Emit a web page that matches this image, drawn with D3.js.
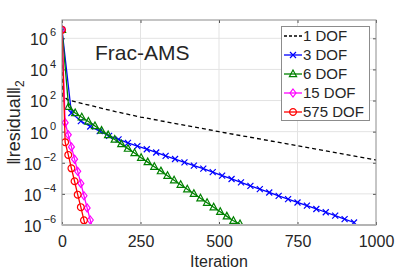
<!DOCTYPE html>
<html>
<head>
<meta charset="utf-8">
<script src="https://cdn.jsdelivr.net/npm/d3@7"></script>
<style>
  html, body { margin: 0; padding: 0; background: #fff; }
  svg { display: block; }
  text { font-family: "Liberation Sans", Arial, sans-serif; fill: #262626; }
</style>
</head>
<body>
<svg id="chart" width="415" height="274"></svg>
<script>
// --- Data ---

const seriesNames = ['1 DOF', '3 DOF', '6 DOF', '15 DOF', '575 DOF'];

// 1 DOF: dashed, no markers
const dof1Iter = [0, 1, 20, 100, 170, 250, 500, 750, 1000];
const dof1Res  = [3.5e6, 200, 107, 43, 19.5, 8.7, 1.0, 0.123, 0.015];

// 3 DOF: blue crosses
const dof3Iter = [0, 30, 60, 90, 120, 150, 180, 210, 240, 270, 300, 330, 360, 390, 420, 450,
  480, 510, 540, 570, 600, 630, 660, 690, 720, 750, 780, 810, 840, 870, 900, 930];
const dof3Res  = [3.5e6, 15.8, 4.8, 2.14, 1.07, 0.54, 0.32, 0.19, 0.117, 0.074, 0.046, 0.028,
  0.0174, 0.0107, 6.6e-3, 4.2e-3, 2.5e-3, 1.5e-3, 9.1e-4, 5.5e-4, 3.3e-4, 2.0e-4, 1.23e-4,
  7.4e-5, 4.6e-5, 2.8e-5, 1.74e-5, 1.07e-5, 6.6e-6, 4.0e-6, 2.4e-6, 1.45e-6];

// 6 DOF: green triangles
const dof6Iter = [0, 21, 42, 63, 84, 105, 126, 147, 168, 189, 210, 231, 252, 273, 294, 315,
  336, 357, 378, 399, 420, 441, 462, 483, 504, 525, 546, 567];
const dof6Res  = [3.5e6, 39.8, 15.8, 8.5, 4.47, 2.29, 1.17, 0.60, 0.31, 0.158, 0.081, 0.042,
  0.021, 0.011, 5.6e-3, 2.9e-3, 1.48e-3, 7.6e-4, 3.9e-4, 2.0e-4, 1.02e-4, 5.2e-5, 2.7e-5,
  1.38e-5, 7.1e-6, 3.6e-6, 1.86e-6, 1.15e-6];

// 15 DOF: magenta diamonds
const dof15Iter = [0, 10, 20, 30, 40, 50, 60, 70, 80, 90, 100];
const dof15Res  = [3.5e6, 3.8, 0.63, 0.105, 0.017, 2.8e-3, 4.7e-4, 7.6e-5, 1.26e-5, 2.1e-6, 3.5e-7];

// 575 DOF: red circles
const dof575Iter = [0, 10, 20, 30, 40, 50, 60, 70, 80];
const dof575Res  = [3.5e6, 0.21, 0.032, 4.4e-3, 6.5e-4, 8.9e-5, 1.4e-5, 2.0e-6, 3.2e-7];

const xTicks = [0, 250, 500, 750, 1000];
const yTicks = [1e-6, 1e-4, 1e-2, 1e0, 1e2, 1e4, 1e6];

// --- Layout ---

const svg = d3.select('#chart');
const padL = 62, padR = 376, padT = 20, padB = 225;

const x = d3.scaleLinear().domain([0, 1000]).range([padL, padR]);
const y = d3.scaleLog().domain([1e-6, 1.5e7]).range([padB, padT]);

const series = [
  { name: seriesNames[0], iter: dof1Iter, res: dof1Res, color: '#000000', dash: '4,3', marker: null },
  { name: seriesNames[1], iter: dof3Iter, res: dof3Res, color: '#0000ff', dash: null, marker: 'x' },
  { name: seriesNames[2], iter: dof6Iter, res: dof6Res, color: '#008000', dash: null, marker: 'tri' },
  { name: seriesNames[3], iter: dof15Iter, res: dof15Res, color: '#ff00ff', dash: null, marker: 'dia' },
  { name: seriesNames[4], iter: dof575Iter, res: dof575Res, color: '#ff0000', dash: null, marker: 'circ' },
];

function markerPath(kind) {
  if (kind === 'x') return 'M-3,-3L3,3M-3,3L3,-3';
  if (kind === 'tri') return 'M0,-4L3.6,2.6L-3.6,2.6Z';
  if (kind === 'dia') return 'M0,-4L3,0L0,4L-3,0Z';
  if (kind === 'circ') return d3.symbol(d3.symbolCircle, Math.PI * 3.4 * 3.4)();
  return '';
}

// --- Grid ---

const grid = svg.append('g');
grid.selectAll('line.gx').data(xTicks.slice(1, -1)).join('line')
  .attr('x1', d => x(d)).attr('x2', d => x(d)).attr('y1', padT).attr('y2', padB)
  .attr('stroke', '#e3e3e3').attr('stroke-width', 1);
grid.selectAll('line.gy').data(yTicks).join('line')
  .attr('x1', padL).attr('x2', padR).attr('y1', d => y(d)).attr('y2', d => y(d))
  .attr('stroke', '#e3e3e3').attr('stroke-width', 1);

// --- Axes (ticks pointing inward, MATLAB style) ---

const xAxis = svg.append('g').attr('transform', `translate(0,${padB})`)
  .call(d3.axisBottom(x).tickValues(xTicks).tickSize(-3).tickPadding(11).tickSizeOuter(0)
    .tickFormat(d3.format('d')));
xAxis.select('.domain').remove();
xAxis.selectAll('.tick line').attr('stroke', '#555');
xAxis.selectAll('.tick text').attr('font-size', 16).attr('fill', '#262626')
  .attr('font-family', '"Liberation Sans", Arial, sans-serif');

svg.append('g').attr('transform', `translate(0,${padT})`)
  .call(d3.axisTop(x).tickValues(xTicks).tickSize(-3).tickFormat('').tickSizeOuter(0))
  .call(g => g.select('.domain').remove())
  .call(g => g.selectAll('.tick line').attr('stroke', '#555'));

const yAxis = svg.append('g').attr('transform', `translate(${padL},0)`)
  .call(d3.axisLeft(y).tickValues(yTicks).tickSize(-3).tickPadding(6).tickSizeOuter(0).tickFormat(''));
yAxis.select('.domain').remove();
yAxis.selectAll('.tick line').attr('stroke', '#555');
yAxis.selectAll('.tick text').each(function (d) {
  const t = d3.select(this)
    .attr('font-size', 16).attr('fill', '#262626').attr('dy', '0.4em')
    .attr('font-family', '"Liberation Sans", Arial, sans-serif');
  t.append('tspan').text('10');
  t.append('tspan').attr('font-size', 11).attr('dy', '-0.8em').attr('dx', '2')
    .text(d3.format('d')(Math.round(Math.log10(d))));
});

svg.append('g').attr('transform', `translate(${padR},0)`)
  .call(d3.axisRight(y).tickValues(yTicks).tickSize(-3).tickFormat('').tickSizeOuter(0))
  .call(g => g.select('.domain').remove())
  .call(g => g.selectAll('.tick line').attr('stroke', '#555'));

// --- Series ---

svg.append('clipPath').attr('id', 'plot-clip')
  .append('rect').attr('x', padL).attr('y', padT).attr('width', padR - padL).attr('height', padB - padT);

const plot = svg.append('g').attr('clip-path', 'url(#plot-clip)');
const line = d3.line().x(d => x(d[0])).y(d => y(d[1]));

for (const s of series) {
  const pts = s.iter.map((it, i) => [it, s.res[i]]);
  plot.append('path').datum(pts)
    .attr('d', line)
    .attr('fill', 'none')
    .attr('stroke', s.color)
    .attr('stroke-width', 1.3)
    .attr('stroke-dasharray', s.dash);
  if (s.marker) {
    plot.selectAll(null).data(pts.filter(p => p[1] >= 1e-6)).join('path')
      .attr('transform', d => `translate(${x(d[0])},${y(d[1])})`)
      .attr('d', markerPath(s.marker))
      .attr('fill', 'none')
      .attr('stroke', s.color)
      .attr('stroke-width', 1.2);
  }
}

// --- Box ---

svg.append('rect').attr('x', padL).attr('y', padT).attr('width', padR - padL).attr('height', padB - padT)
  .attr('fill', 'none').attr('stroke', '#8c8c8c').attr('stroke-width', 1);
svg.append('line').attr('x1', padL).attr('x2', padR).attr('y1', padB).attr('y2', padB)
  .attr('stroke', '#b4b4b4').attr('stroke-width', 2);

// --- Labels ---

svg.append('text').attr('x', 95).attr('y', 60).attr('font-size', 21).text('Frac-AMS');

svg.append('text').attr('x', (padL + padR) / 2).attr('y', 267).attr('text-anchor', 'middle')
  .attr('font-size', 16).text('Iteration');

const yl = svg.append('text')
  .attr('transform', `translate(20,${(padT + padB) / 2}) rotate(-90)`)
  .attr('text-anchor', 'middle')
  .attr('font-family', '"DejaVu Serif", "Liberation Serif", serif')
  .attr('font-size', 18);
yl.append('tspan').text('\u2016residual\u2016');
yl.append('tspan').attr('font-size', 12).attr('dy', '0.35em').text('2');

// --- Legend ---

const legend = svg.append('g');
legend.append('rect').attr('x', 281.5).attr('y', 26.5).attr('width', 88).attr('height', 94)
  .attr('fill', '#fff').attr('stroke', '#8c8c8c').attr('stroke-width', 1);

const legendY = d3.scalePoint().domain(seriesNames).range([36, 112]);
const rows = legend.selectAll('g.row').data(series).join('g')
  .attr('transform', d => `translate(0,${legendY(d.name)})`);
rows.append('line').attr('x1', 284).attr('x2', 302).attr('y1', 0).attr('y2', 0)
  .attr('stroke', d => d.color).attr('stroke-width', 1.3)
  .attr('stroke-dasharray', d => d.dash ? '3,2' : null);
rows.filter(d => d.marker).append('path')
  .attr('transform', 'translate(293,0)')
  .attr('d', d => markerPath(d.marker))
  .attr('fill', 'none').attr('stroke', d => d.color).attr('stroke-width', 1.2);
rows.append('text').attr('x', 303).attr('y', 0).attr('dy', '0.36em')
  .attr('font-size', 15).text(d => d.name);
</script>
</body>
</html>
